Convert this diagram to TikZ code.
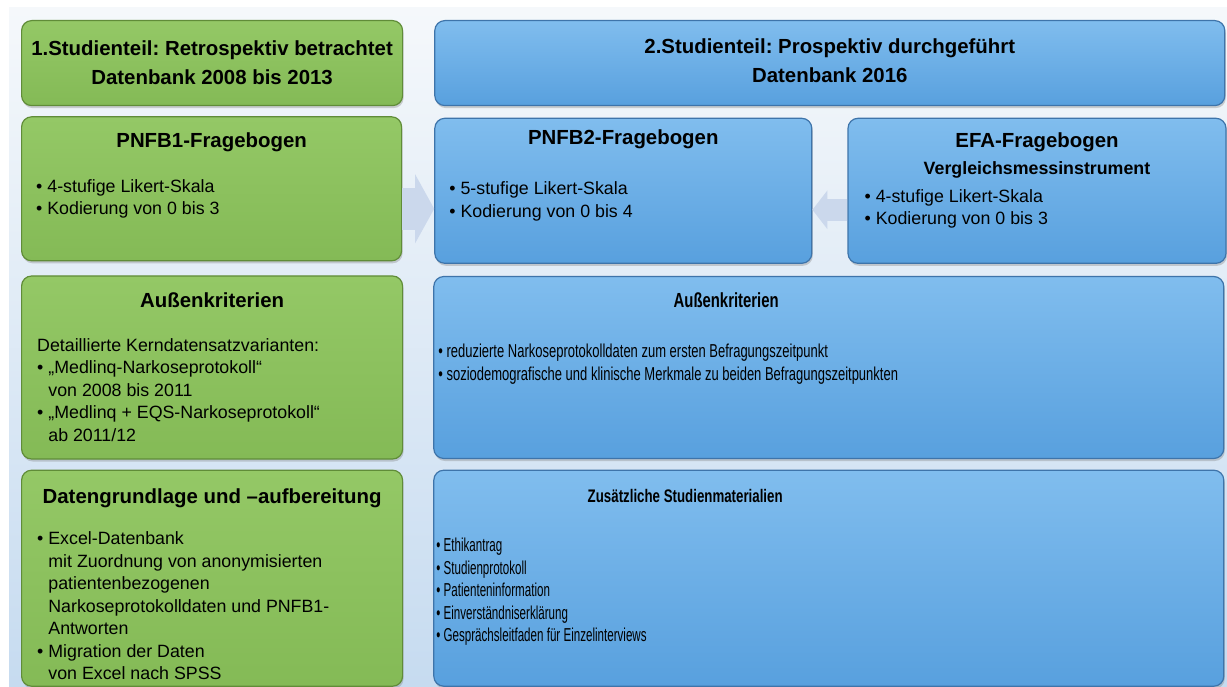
\documentclass[tikz,border=0pt]{standalone}
\usepackage{fontspec}
\setmainfont{Liberation Sans}
\newfontfamily\narrowA[FakeStretch=0.73]{Liberation Sans}
\newfontfamily\narrowB[FakeStretch=0.695]{Liberation Sans}
\newfontfamily\narrowC[FakeStretch=0.62]{Liberation Sans}
\usepackage{tikz}
\usetikzlibrary{positioning,shadows,arrows.meta}
\frenchspacing
\definecolor{greentop}{RGB}{148,200,102}
\definecolor{greenbot}{RGB}{132,186,86}
\definecolor{greenline}{RGB}{96,140,56}
\definecolor{bluetop}{RGB}{128,189,238}
\definecolor{bluebot}{RGB}{88,160,222}
\definecolor{blueline}{RGB}{62,116,170}
\definecolor{bgtop}{RGB}{245,248,251}
\definecolor{bgbot}{RGB}{198,219,240}
\definecolor{arrowblue}{RGB}{203,216,236}
\newcommand{\headfont}{\fontsize{20.4}{29}\selectfont\bfseries}
\newcommand{\subfont}{\fontsize{17.8}{22}\selectfont\bfseries}
\newcommand{\bodyfont}{\fontsize{17.8}{22.5}\selectfont}
\newcommand{\narrowfont}{\fontsize{18.7}{22.5}\selectfont}
\newcommand{\ind}{\phantom{• }}

\begin{document}
\begin{tikzpicture}[x=1pt,y=1pt]
	\tikzstyle{box}=[rectangle, rounded corners=10pt, line width=1.2pt, inner sep=0pt, drop shadow={opacity=0.35, shadow xshift=1pt, shadow yshift=-2.5pt}]
	\tikzstyle{greenbox}=[box, draw=greenline, top color=greentop, bottom color=greenbot]
	\tikzstyle{bluebox}=[box, draw=blueline, top color=bluetop, bottom color=bluebot]
	\tikzstyle{headtext}=[inner sep=0pt, font=\headfont, anchor=base]
	\tikzstyle{bodytext}=[inner sep=0pt, font=\bodyfont, align=left, anchor=north west]
	\tikzstyle{connect}=[draw=arrowblue]
	% page and background
	\useasboundingbox (0,0) rectangle (1227,-687);
	\fill[white] (0,0) rectangle (1227,-687);
	\shade[top color=bgtop, bottom color=bgbot] (9,-8) rectangle (1227,-687);
	% boxes
	\node[greenbox, minimum width=381pt, minimum height=85pt, anchor=north west] (study1) at (21,-20) {};
	\node[bluebox, minimum width=790pt, minimum height=85pt] (study2) [right=31pt of study1] {};
	\node[greenbox, minimum width=380pt, minimum height=144pt] (pnfb1) [below=10pt of study1.south west, anchor=north west] {};
	\node[bluebox, minimum width=377pt, minimum height=145pt, yshift=-2pt] (pnfb2) [right=32pt of pnfb1] {};
	\node[bluebox, minimum width=378pt, minimum height=145pt] (efa) [right=35pt of pnfb2] {};
	\node[greenbox, minimum width=381pt, minimum height=183pt] (auss1) [below=14pt of pnfb1.south west, anchor=north west] {};
	\node[bluebox, minimum width=790pt, minimum height=182pt] (auss2) [right=30pt of auss1] {};
	\node[greenbox, minimum width=381pt, minimum height=216pt] (daten) [below=10pt of auss1.south west, anchor=north west] {};
	\node[bluebox, minimum width=790pt, minimum height=216pt] (zusatz) [right=30pt of daten] {};
	% texts
	\node[headtext, align=center, anchor=north] (study1text) at ([yshift=-21pt]study1.north) {1.Studienteil: Retrospektiv betrachtet\\Datenbank 2008 bis 2013};
	\node[headtext, align=center, anchor=north] (study2text) at ([yshift=-19pt]study2.north) {2.Studienteil: Prospektiv durchgeführt\\Datenbank 2016};
	\node[headtext] (pnfb1title) at ([yshift=-31pt]pnfb1.north) {PNFB1-Fragebogen};
	\node[bodytext] (pnfb1body) at ([xshift=15pt, yshift=-63pt]pnfb1.north west) {• 4-stufige Likert-Skala\\• Kodierung von 0 bis 3};
	\node[headtext] (pnfb2title) at ([yshift=-27pt]pnfb2.north) {PNFB2-Fragebogen};
	\node[bodytext] (pnfb2body) at ([xshift=15pt, yshift=-64pt]pnfb2.north west) {• 5-stufige Likert-Skala\\• Kodierung von 0 bis 4};
	\node[headtext] (efatitle) at ([yshift=-29.5pt]efa.north) {EFA-Fragebogen};
	\node[headtext, font=\subfont] (efasub) at ([yshift=-57pt]efa.north) {Vergleichsmessinstrument};
	\node[bodytext] (efabody) at ([xshift=17pt, yshift=-71.5pt]efa.north west) {• 4-stufige Likert-Skala\\• Kodierung von 0 bis 3};
	\node[headtext] (auss1title) at ([yshift=-32pt]auss1.north) {Außenkriterien};
	\node[bodytext] (auss1body) at ([xshift=16pt, yshift=-63pt]auss1.north west) {Detaillierte Kerndatensatzvarianten:\\• „Medlinq-Narkoseprotokoll“\\\ind von 2008 bis 2011\\• „Medlinq + EQS-Narkoseprotokoll“\\\ind ab 2011/12};
	\node[headtext, font=\headfont\narrowA] (auss2title) at ([xshift=293pt, yshift=-31.5pt]auss2.north west) {Außenkriterien};
	\node[bodytext, font=\narrowfont\narrowB] (auss2body) at ([xshift=5pt, yshift=-68pt]auss2.north west) {• reduzierte Narkoseprotokolldaten zum ersten Befragungszeitpunkt\\• soziodemografische und klinische Merkmale zu beiden Befragungszeitpunkten};
	\node[headtext] (datentitle) at ([yshift=-34pt]daten.north) {Datengrundlage und –aufbereitung};
	\node[bodytext] (datenbody) at ([xshift=16pt, yshift=-62pt]daten.north west) {• Excel-Datenbank\\\ind mit Zuordnung von anonymisierten\\\ind patientenbezogenen\\\ind Narkoseprotokolldaten und PNFB1-\\\ind Antworten\\• Migration der Daten\\\ind von Excel nach SPSS};
	\node[headtext, font=\fontsize{18.2}{22}\selectfont\bfseries\narrowA] (zusatztitle) at ([xshift=252pt, yshift=-33pt]zusatz.north west) {Zusätzliche Studienmaterialien};
	\node[bodytext, font=\narrowfont\narrowC] (zusatzbody) at ([xshift=3pt, yshift=-68.5pt]zusatz.north west) {• Ethikantrag\\• Studienprotokoll\\• Patienteninformation\\• Einverständniserklärung\\• Gesprächsleitfaden für Einzelinterviews};
	% block arrows
	\coordinate (a1) at ([yshift=-20pt]pnfb1.east);
	\coordinate (a2) at ([yshift=-19pt]efa.west);
	\draw[connect, line width=42pt, -{Triangle[length=19pt, width=68pt]}] (a1) -- (a1 -| pnfb2.west);
	\draw[connect, line width=22pt, -{Triangle[length=15pt, width=38pt]}] (a2) -- (a2 -| pnfb2.east);
\end{tikzpicture}
\end{document}
